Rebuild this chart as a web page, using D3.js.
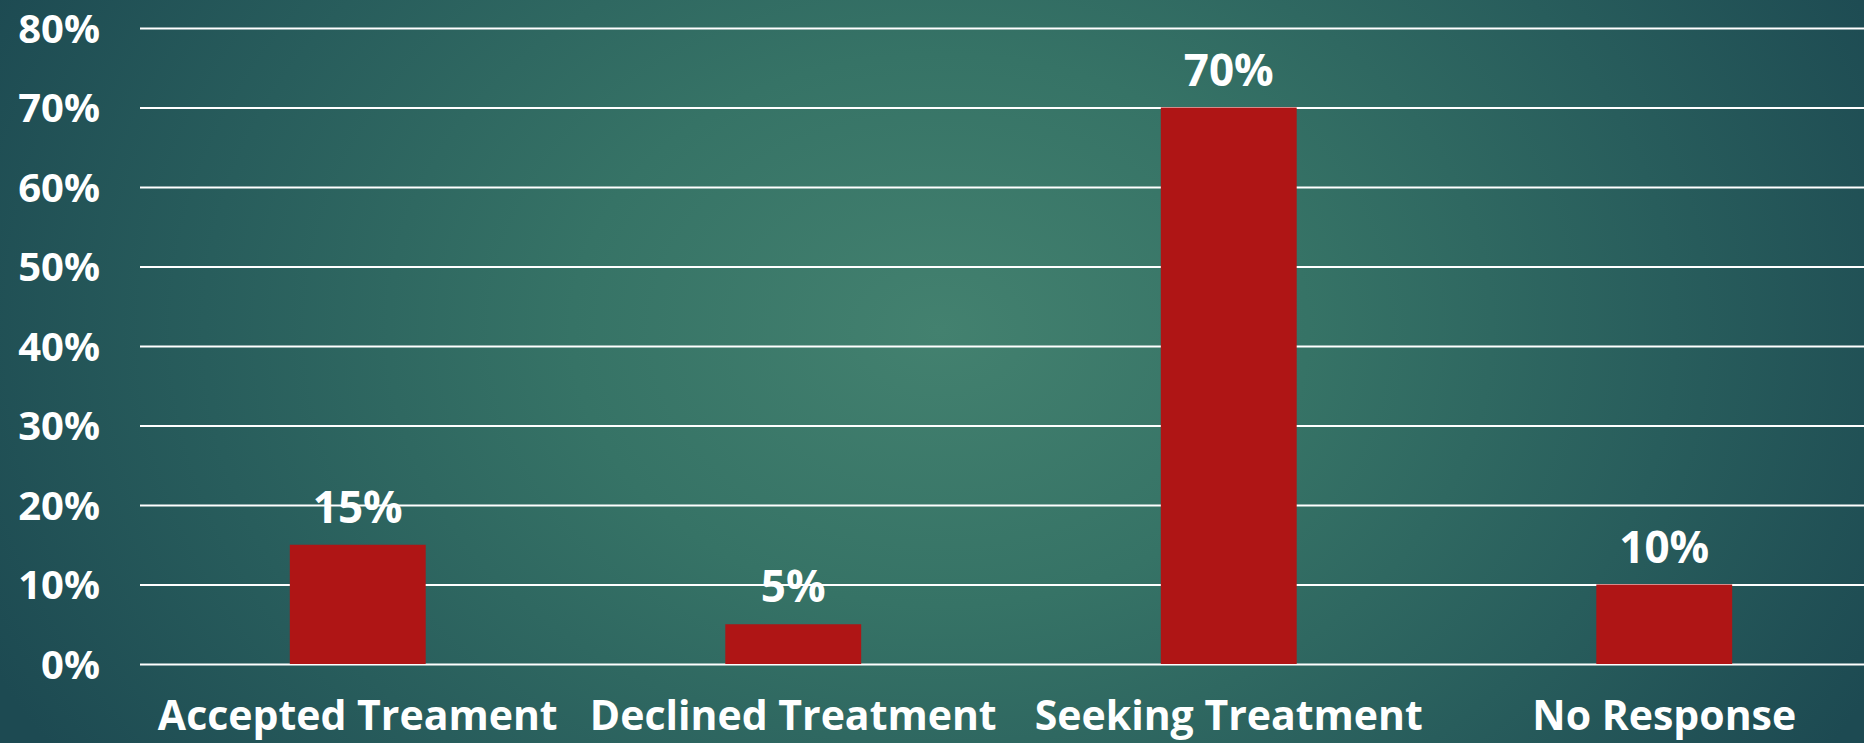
<!DOCTYPE html>
<html>
<head>
<meta charset="utf-8">
<script src="https://cdn.jsdelivr.net/npm/d3@7"></script>
<style>
  html, body { margin: 0; padding: 0; overflow: hidden; }
  body { width: 1864px; height: 743px; }
  svg { display: block; }
</style>
</head>
<body>
<svg id="chart" width="1864" height="743"></svg>
<script>
const categories = ["Accepted Treament", "Declined Treatment", "Seeking Treatment", "No Response"];
const values = [15, 5, 70, 10];
const tickValues = [0, 10, 20, 30, 40, 50, 60, 70, 80];
const valueLabels = ["15%", "5%", "70%", "10%"];

const W = 1864, H = 743;
const svg = d3.select("#chart");

// background gradient
const defs = svg.append("defs");
const grad = defs.append("radialGradient")
  .attr("id", "bg")
  .attr("gradientUnits", "userSpaceOnUse")
  .attr("cx", 940).attr("cy", 330).attr("r", 1050)
  .attr("gradientTransform", "translate(940,330) scale(1,0.75) translate(-940,-330)");
grad.append("stop").attr("offset", "0%").attr("stop-color", "#43816f");
grad.append("stop").attr("offset", "35%").attr("stop-color", "#367366");
grad.append("stop").attr("offset", "70%").attr("stop-color", "#285d5c");
grad.append("stop").attr("offset", "100%").attr("stop-color", "#1d4a52");
svg.append("rect").attr("width", W).attr("height", H).attr("fill", "url(#bg)");

const x = d3.scaleBand()
  .domain(categories)
  .range([140, 1882])
  .paddingInner(0.688)
  .paddingOuter(0.344);

const y = d3.scaleLinear().domain([0, 80]).range([664, 28]);

const font = "'Open Sans', 'DejaVu Sans', sans-serif";

// gridlines + y labels via axis
const yAxis = d3.axisLeft(y)
  .tickValues(tickValues)
  .tickFormat(d => d + "%")
  .tickSize(-(W - 140))
  .tickPadding(40);

const gy = svg.append("g")
  .attr("transform", "translate(140,0)")
  .call(yAxis);
gy.select(".domain").remove();
gy.selectAll(".tick line")
  .attr("stroke", "#ffffff")
  .attr("stroke-width", 2);
gy.selectAll(".tick text")
  .attr("fill", "#ffffff")
  .attr("font-family", font)
  .attr("font-weight", 700)
  .attr("font-size", 40)
  .attr("dy", "0.36em");

// bars
svg.append("g").selectAll("rect")
  .data(values)
  .join("rect")
  .attr("x", (d, i) => x(categories[i]))
  .attr("y", d => y(d))
  .attr("width", x.bandwidth())
  .attr("height", d => y(0) - y(d))
  .attr("fill", "#af1515");

// value labels
svg.append("g").selectAll("text")
  .data(values)
  .join("text")
  .attr("x", (d, i) => x(categories[i]) + x.bandwidth() / 2)
  .attr("y", d => y(d) - 22)
  .attr("text-anchor", "middle")
  .attr("fill", "#ffffff")
  .attr("font-family", font)
  .attr("font-weight", 700)
  .attr("font-size", 44)
  .text((d, i) => valueLabels[i]);

// x axis labels
const xAxis = d3.axisBottom(x).tickSize(0).tickPadding(0);
const gx = svg.append("g")
  .attr("transform", "translate(0,664)")
  .call(xAxis);
gx.select(".domain").remove();
gx.selectAll(".tick text")
  .attr("fill", "#ffffff")
  .attr("font-family", font)
  .attr("font-weight", 700)
  .attr("font-size", 41)
  .attr("y", 66)
  .attr("dy", 0);
</script>
</body>
</html>
